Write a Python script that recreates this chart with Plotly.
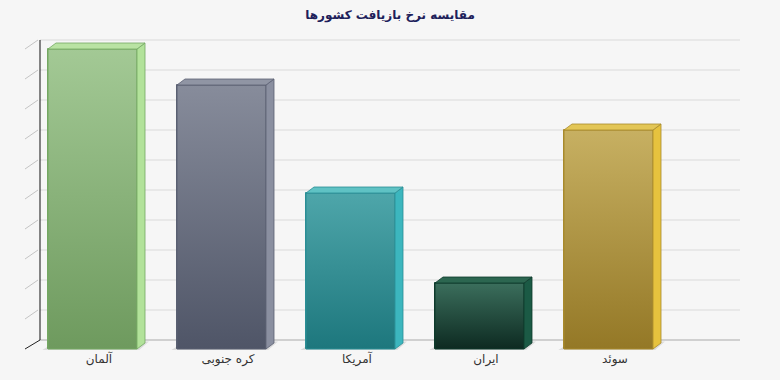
import plotly.graph_objects as go

# ---------------- data ----------------
categories = ["آلمان", "کره جنوبی", "آمریکا", "ایران", "سوئد"]
values = [100, 88, 52, 22, 73]
grid_values = list(range(0, 101, 10))
title_text = "مقایسه نرخ بازیافت کشورها"

# ---------------- styles ----------------
front_top = ["#a3c995", "#878c9b", "#4ea6aa", "#3b6e5c", "#c7b062"]
front_bottom = ["#6e9a5e", "#4f5567", "#1d777d", "#0d2a21", "#947826"]
side_col = ["#b2e29a", "#8a8fa0", "#3cb6be", "#1b5a45", "#e6c23e"]
top_col = ["#b9e3a3", "#9095a4", "#5fc2c4", "#2c6650", "#e3c656"]
edge_col = ["#74a863", "#5a6072", "#2a8e95", "#0e3a2c", "#a88a2c"]

L, R, T, B = 20, 20, 30, 30
FIG_W, FIG_H = 780, 380
W = FIG_W - L - R
H = FIG_H - T - B
PX_X = 129.0          # pixels per category unit
PX_Y = 3.0            # pixels per value unit
x_lo = -(92.5 - L) / PX_X
x_rng = [x_lo, x_lo + W / PX_X]
y_lo = -((FIG_H - B) - 349) / PX_Y
y_rng = [y_lo, y_lo + H / PX_Y]


def px2x(px):
    return x_lo + (px - L) / PX_X


bw = 89 / PX_X          # bar width
bdx, bdy = 8 / PX_X, 6 / PX_Y    # bar depth
wdx, wdy = 15 / PX_X, 9 / PX_Y   # wall depth

fig = go.Figure()

xs = list(range(len(categories)))

# floor shadows
for i, v in enumerate(values):
    l, r = i - bw / 2, i + bw / 2
    fig.add_trace(go.Scatter(
        x=[l - 6 / PX_X, r + 2 / PX_X, r + bdx + 4 / PX_X, l + bdx, l - 6 / PX_X],
        y=[-0.4, -0.4, bdy + 0.5, bdy + 0.5, -0.4],
        fill="toself", fillcolor="rgba(0,0,0,0.10)", line=dict(width=0),
        mode="lines", hoverinfo="skip", showlegend=False))

# front faces (bars)
fig.add_trace(go.Bar(
    x=xs, y=values, width=bw,
    marker=dict(color=[c for c in front_top],
                line=dict(color=edge_col, width=1)),
    hoverinfo="skip", showlegend=False))

for i, v in enumerate(values):
    l, r = i - bw / 2, i + bw / 2
    # gradient overlay on the front face
    fig.add_trace(go.Scatter(
        x=[l, r, r, l, l], y=[0, 0, v, v, 0],
        fill="toself",
        fillgradient=dict(type="vertical",
                          colorscale=[[0, front_bottom[i]], [1, front_top[i]]]),
        line=dict(color=edge_col[i], width=1),
        mode="lines", hoverinfo="skip", showlegend=False))
    # side face
    fig.add_trace(go.Scatter(
        x=[r, r + bdx, r + bdx, r, r], y=[0, bdy, v + bdy, v, 0],
        fill="toself", fillcolor=side_col[i],
        line=dict(color=edge_col[i], width=0.8),
        mode="lines", hoverinfo="skip", showlegend=False))
    # top face
    fig.add_trace(go.Scatter(
        x=[l, r, r + bdx, l + bdx, l], y=[v, v, v + bdy, v + bdy, v],
        fill="toself", fillcolor=top_col[i],
        line=dict(color=edge_col[i], width=0.8),
        mode="lines", hoverinfo="skip", showlegend=False))

# walls and grid
shapes = []
xa, xb, xf = px2x(40), px2x(740), px2x(25)
for g in grid_values:
    shapes.append(dict(type="line", xref="x", yref="y", layer="below",
                       x0=xa, x1=xb, y0=g + wdy, y1=g + wdy,
                       line=dict(color="#aaaaaa" if g == 0 else "#dadada", width=1)))
    shapes.append(dict(type="line", xref="x", yref="y", layer="below",
                       x0=xf, x1=xa if g == 0 else xa - 2 / PX_X,
                       y0=g, y1=g + wdy,
                       line=dict(color="#222222" if g == 0 else "#c4c4c4", width=1)))
shapes.append(dict(type="line", xref="x", yref="y", layer="below",
                   x0=xa, x1=xa, y0=wdy, y1=grid_values[-1] + wdy,
                   line=dict(color="#111111", width=1)))

fig.update_layout(
    width=FIG_W, height=FIG_H,
    margin=dict(l=L, r=R, t=T, b=B),
    paper_bgcolor="#f6f6f6", plot_bgcolor="#f6f6f6",
    shapes=shapes,
    title=dict(text="<b>" + title_text + "</b>", x=0.5, xanchor="center",
               yref="container", y=1 - 15 / FIG_H, yanchor="middle",
               font=dict(family="DejaVu Sans", size=12, color="#20205a")),
    xaxis=dict(range=x_rng, showgrid=False, zeroline=False, showline=False,
               tickvals=[i + 0.05 for i in xs], ticktext=categories, ticks="",
               tickfont=dict(family="DejaVu Sans", size=12, color="#333333"),
               fixedrange=True),
    yaxis=dict(range=y_rng, visible=False, fixedrange=True),
    bargap=0,
)

fig.write_html("out.html")
